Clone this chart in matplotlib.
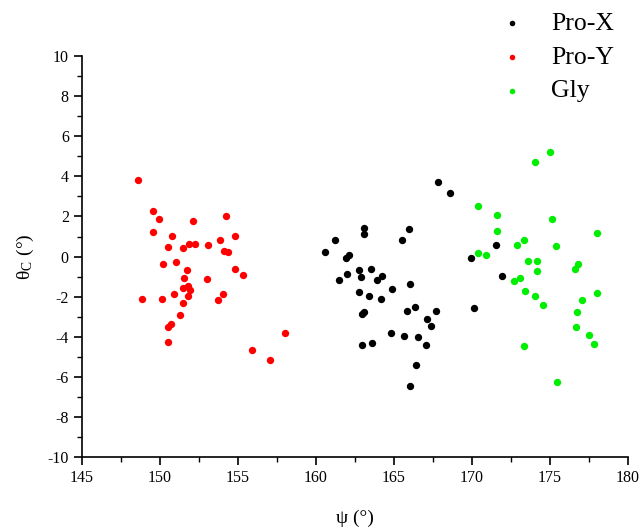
import matplotlib.pyplot as plt
from matplotlib.ticker import MultipleLocator

plt.rcParams['font.family'] = ['Liberation Serif', 'DejaVu Serif']
plt.rcParams['mathtext.fontset'] = 'stix'
plt.rcParams['axes.unicode_minus'] = False

# Pro-X (black)
prox_psi = [167.82, 168.61, 163.06, 163.06, 165.94, 165.53, 161.20, 160.56, 162.10, 161.92,
            162.74, 163.53, 161.46, 162.01, 162.91, 163.91, 164.25, 164.87, 166.01, 162.74,
            163.42, 164.15, 165.86, 166.33, 167.71, 162.97, 163.08, 167.12, 167.40, 164.83,
            165.64, 166.54, 167.05, 162.95, 163.57, 166.41, 166.03,
            171.56, 169.94, 171.90, 170.13]
prox_theta = [3.72, 3.18, 1.41, 1.11, 1.36, 0.83, 0.83, 0.21, 0.06, -0.09,
              -0.68, -0.64, -1.19, -0.88, -1.03, -1.18, -0.96, -1.63, -1.36, -1.76,
              -1.98, -2.11, -2.73, -2.51, -2.71, -2.85, -2.77, -3.13, -3.47, -3.82,
              -3.98, -4.00, -4.40, -4.39, -4.32, -5.40, -6.45,
              0.58, -0.08, -0.96, -2.58]

# Pro-Y (red)
proy_psi = [148.57, 149.55, 149.94, 152.12, 154.21, 149.55, 150.75, 154.81, 150.53, 151.45,
            151.84, 152.24, 153.10, 153.87, 154.12, 154.38, 150.21, 151.03, 151.73, 154.79,
            155.32, 151.54, 153.01, 151.47, 151.77, 151.92, 151.79, 150.90, 148.83, 150.13,
            154.06, 153.74, 151.49, 151.26, 150.71, 150.53, 150.51, 155.88, 157.07, 158.00]
proy_theta = [3.83, 2.25, 1.85, 1.76, 2.00, 1.21, 1.03, 1.03, 0.49, 0.44,
              0.61, 0.64, 0.56, 0.84, 0.26, 0.24, -0.36, -0.29, -0.66, -0.64,
              -0.94, -1.08, -1.13, -1.56, -1.49, -1.69, -1.95, -1.85, -2.11, -2.11,
              -1.88, -2.18, -2.33, -2.90, -3.38, -3.52, -4.24, -4.67, -5.15, -3.83]

# Gly (green)
gly_psi = [175.00, 174.02, 170.42, 171.62, 175.11, 171.62, 178.03, 173.31, 172.86, 175.41,
           170.42, 170.90, 173.61, 174.17, 176.78, 176.60, 174.15, 173.08, 172.69, 173.42,
           174.02, 178.03, 174.57, 177.05, 176.73, 176.69, 177.52, 177.84, 173.33, 175.43]
gly_theta = [5.24, 4.72, 2.52, 2.06, 1.89, 1.26, 1.18, 0.81, 0.58, 0.51,
             0.18, 0.06, -0.23, -0.21, -0.36, -0.63, -0.74, -1.08, -1.24, -1.74,
             -1.98, -1.83, -2.40, -2.16, -2.78, -3.50, -3.90, -4.34, -4.45, -6.25]

fig = plt.figure(figsize=(6.43, 5.29), dpi=100)
ax = fig.add_axes([0.1275, 0.136, 0.849, 0.758])

ms = 28
ax.scatter(prox_psi, prox_theta, s=ms, c='black', lw=0, label='Pro-X')
ax.scatter(proy_psi, proy_theta, s=ms, c='#ff0000', lw=0, label='Pro-Y')
ax.scatter(gly_psi, gly_theta, s=ms, c='#00ee00', lw=0, label='Gly')

ax.set_xlim(145, 180)
ax.set_ylim(-10, 10)
ax.xaxis.set_major_locator(MultipleLocator(5))
ax.xaxis.set_minor_locator(MultipleLocator(2.5))
ax.yaxis.set_major_locator(MultipleLocator(2))
ax.yaxis.set_minor_locator(MultipleLocator(1))
ax.tick_params(which='major', direction='out', length=6, width=1.2, labelsize=11.5)
ax.tick_params(which='minor', direction='out', length=3.5, width=1.0)
ax.spines['top'].set_visible(False)
ax.spines['right'].set_visible(False)
ax.spines['left'].set_linewidth(1.2)
ax.spines['bottom'].set_linewidth(1.2)

ax.set_xlabel('ψ (°)', fontsize=14, labelpad=17)
ax.set_ylabel(r'θ$_{\mathregular{C}}$ (°)', fontsize=14, labelpad=8)

ax.legend(loc='upper left', bbox_to_anchor=(0.741, 0.997), bbox_transform=fig.transFigure,
          frameon=False, fontsize=18.5, markerscale=0.75, handletextpad=0.5,
          labelspacing=0.42, borderaxespad=0)

fig.savefig('out.png', dpi=100)
